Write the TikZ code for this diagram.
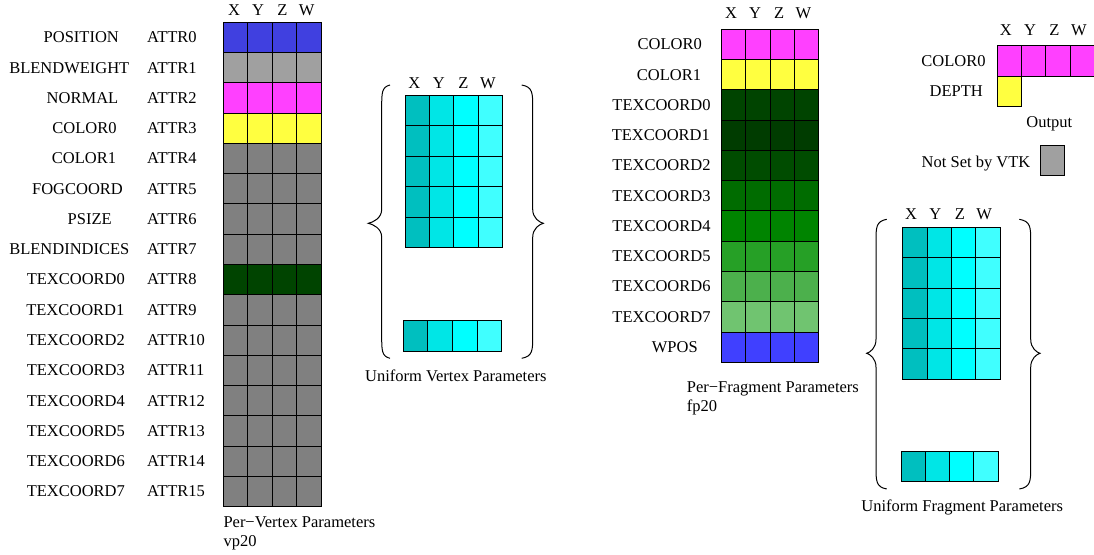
\documentclass[tikz,border=0pt]{standalone}
\usepackage{fontspec}
\setmainfont{Liberation Serif}
\newcommand\lbf{\fontsize{16.5}{19}\selectfont}
\definecolor{cblue}{RGB}{64,64,224}
\definecolor{wblue}{RGB}{64,64,255}
\definecolor{cmag}{RGB}{255,64,255}
\definecolor{cyel}{RGB}{255,255,64}
\definecolor{lgray}{RGB}{160,160,160}
\definecolor{dgray}{RGB}{128,128,128}
\definecolor{ga}{RGB}{0,68,0}
\definecolor{gb}{RGB}{0,60,0}
\definecolor{gc}{RGB}{0,76,0}
\definecolor{gd}{RGB}{0,108,0}
\definecolor{ge}{RGB}{0,132,0}
\definecolor{gf}{RGB}{38,160,38}
\definecolor{gg}{RGB}{76,176,76}
\definecolor{gh}{RGB}{112,196,112}
\definecolor{cya}{RGB}{0,191,191}
\definecolor{cyb}{RGB}{0,230,230}
\definecolor{cyc}{RGB}{0,255,255}
\definecolor{cyd}{RGB}{64,255,255}
% grid lines: x0,y0,cw,rh,ncols,nrows
\newcommand\gridlines[6]{%
  \foreach \k in {0,...,#6} \draw[gl] (#1,{#2+\k*#4}) -- ++({#5*#3},0);
  \foreach \k in {0,...,#5} \draw[gl] ({#1+\k*#3},#2) -- ++(0,{#6*#4});}
% brace: end x, vertical x, tip x, top y, bottom y, middle y
\newcommand\curlybrace[6]{%
  \draw[brc] (#1,#4) .. controls (#2,{#4+2}) and (#2,{#4+8}) .. (#2,{#4+22})
    -- (#2,{#6-14}) .. controls (#2,{#6-5}) and ({#3+0.35*(#2-#3)},{#6-1}) .. (#3,#6)
    .. controls ({#3+0.35*(#2-#3)},{#6+1}) and (#2,{#6+5}) .. (#2,{#6+14})
    -- (#2,{#5-22}) .. controls (#2,{#5-8}) and (#2,{#5-2}) .. (#1,#5);}
\begin{document}
\begin{tikzpicture}[x=1pt,y=-1pt,
  lbl/.style={inner sep=0pt,anchor=base,font=\lbf},
  gl/.style={draw=black,line width=1pt,line cap=rect},
  brc/.style={draw=black,line width=1pt}]
\useasboundingbox (0,0) rectangle (1094,554);

% ---------- Per-vertex grid ----------
\foreach \c [count=\i from 0] in {cblue,lgray,cmag,cyel,dgray,dgray,dgray,dgray,ga,dgray,dgray,dgray,dgray,dgray,dgray,dgray}
  \fill[\c] (223.3,{22.3+\i*30.275}) rectangle ++(97.7,30.275);
\gridlines{223.3}{22.3}{24.425}{30.275}{4}{16}
\foreach \l [count=\j from 0] in {X,Y,Z,W}
  \node[lbl] (vx\j) at ({234+\j*24.2},15.5) {\l};
\foreach \t/\x [count=\i from 0] in {POSITION/81.3,BLENDWEIGHT/69.3,NORMAL/82.5,COLOR0/84.5,COLOR1/84,FOGCOORD/77.5,PSIZE/89.7,BLENDINDICES/69.3,TEXCOORD0/75.8,TEXCOORD1/75.3,TEXCOORD2/75.8,TEXCOORD3/75.8,TEXCOORD4/75.8,TEXCOORD5/75.8,TEXCOORD6/75.8,TEXCOORD7/75.8}
  \node[lbl] (vn\i) at (\x,{22.3+30.275*(\i+0.5)+5.3}) {\t};
\foreach \i in {0,...,15}
  \node[lbl,anchor=base west] (va\i) at (147,{22.3+30.275*(\i+0.5)+5.3}) {ATTR\i};
\node[lbl,anchor=base west] (vpt) at (223.3,527.5) {Per−Vertex Parameters};
\node[lbl,anchor=base west] (vpn) at (223.3,546.7) {vp20};

% ---------- Uniform vertex ----------
\foreach \c [count=\j from 0] in {cya,cyb,cyc,cyd} {
  \fill[\c] ({405+\j*24.425},95) rectangle ++(24.425,152.5);
  \fill[\c] ({403.3+\j*24.6},320.7) rectangle ++(24.6,30.3);
}
\gridlines{405}{95}{24.425}{30.5}{4}{5}
\gridlines{403.3}{320.7}{24.6}{30.3}{4}{1}
\foreach \l [count=\j from 0] in {X,Y,Z,W}
  \node[lbl] (ux\j) at ({414.3+\j*24.5},88.8) {\l};
\curlybrace{390}{381.7}{368.3}{85}{358.3}{223.3}
\curlybrace{521.7}{532.7}{543.3}{85}{358.3}{223.3}
\node[lbl] (uvt) at (455.8,381.7) {Uniform Vertex Parameters};

% ---------- Per-fragment grid ----------
\foreach \c [count=\i from 0] in {cmag,cyel,ga,gb,gc,gd,ge,gf,gg,gh,wblue}
  \fill[\c] (721.7,{29.3+\i*30.27}) rectangle ++(97,30.27);
\gridlines{721.7}{29.3}{24.25}{30.27}{4}{11}
\foreach \l [count=\j from 0] in {X,Y,Z,W}
  \node[lbl] (fx\j) at ({731+\j*24.1},18.8) {\l};
\foreach \t/\x [count=\i from 0] in {COLOR0/669.7,COLOR1/669,TEXCOORD0/661.5,TEXCOORD1/660.8,TEXCOORD2/661.5,TEXCOORD3/661.5,TEXCOORD4/661.5,TEXCOORD5/661.5,TEXCOORD6/661.5,TEXCOORD7/661.5,WPOS/674.8}
  \node[lbl] (fn\i) at (\x,{29.3+30.27*(\i+0.5)+5.3}) {\t};
\node[lbl,anchor=base west] (fpt) at (686.7,392.7) {Per−Fragment Parameters};
\node[lbl,anchor=base west] (fpn) at (686.7,411.7) {fp20};

% ---------- Output ----------
\fill[cmag] (997.3,45.7) rectangle ++(97.2,30.3);
\fill[cyel] (997.3,76) rectangle ++(24.3,30.3);
\gridlines{997.3}{45.7}{24.3}{30.3}{4}{1}
\draw[gl] (997.3,76) rectangle ++(24.3,30.3);
\foreach \l [count=\j from 0] in {X,Y,Z,W}
  \node[lbl] (ox\j) at ({1005.7+\j*24.4},35.5) {\l};
\node[lbl] (oc) at (953.5,66.5) {COLOR0};
\node[lbl] (od) at (956.3,96.2) {DEPTH};
\node[lbl] (ot) at (1049.3,127) {Output};
\node[lbl] (nst) at (976,167) {Not Set by VTK};
\filldraw[fill=lgray,gl] (1040,145) rectangle (1064.3,175);

% ---------- Uniform fragment ----------
\foreach \c [count=\j from 0] in {cya,cyb,cyc,cyd} {
  \fill[\c] ({902.7+\j*24.325},227.7) rectangle ++(24.325,151.3);
  \fill[\c] ({901+\j*24.325},451.7) rectangle ++(24.325,30);
}
\gridlines{902.7}{227.7}{24.325}{30.26}{4}{5}
\gridlines{901}{451.7}{24.325}{30}{4}{1}
\foreach \l [count=\j from 0] in {X,Y,Z,W}
  \node[lbl] (qx\j) at ({911+\j*24.4},219.5) {\l};
\curlybrace{886.7}{876}{866.7}{219.3}{489}{353.3}
\curlybrace{1019.3}{1030.7}{1040}{219.3}{489}{353.3}
\node[lbl] (uft) at (962.2,511.7) {Uniform Fragment Parameters};
\end{tikzpicture}
\end{document}
